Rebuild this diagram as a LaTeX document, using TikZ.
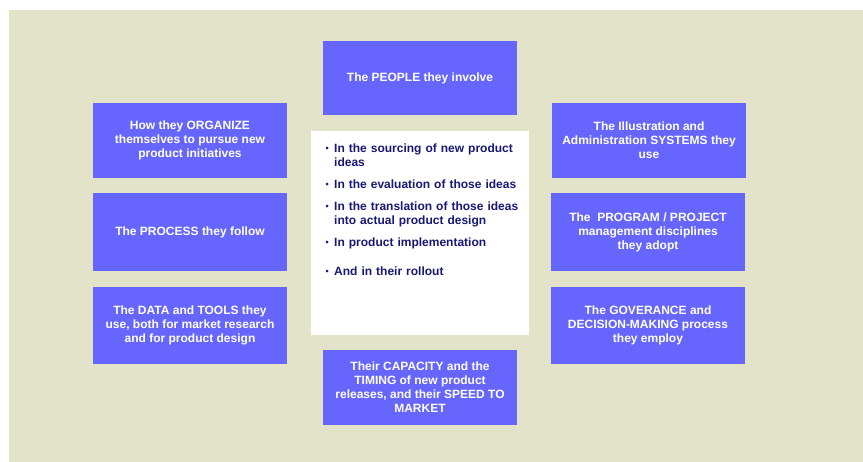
\documentclass[tikz,border=0pt]{standalone}
\usepackage{fontspec}
\setmainfont{Liberation Sans}
\usepackage{enumitem}
\usetikzlibrary{positioning}
\definecolor{paper}{RGB}{227,227,201}
\definecolor{tile}{RGB}{102,102,255}
\definecolor{ink}{RGB}{24,24,118}

\begin{document}
\begin{tikzpicture}[x=1pt,y=-1pt,
  topic/.style={fill=tile,text=white,font=\bfseries\fontsize{12}{14}\selectfont,
    align=center,minimum width=194pt,minimum height=76pt,inner sep=0pt},
  hub/.style={fill=white,minimum width=218pt,minimum height=204pt,inner sep=0pt}]
  \useasboundingbox (0,0) rectangle (863,462);
  \fill[paper] (9,10) rectangle (863,462);
  % centre panel with the list
  \node[hub] (hub) at (420,233) {};
  \node[anchor=north west,text=ink,text width=200pt,inner sep=0pt,
    font=\bfseries\fontsize{12}{14}\selectfont] (stages) at (323,138.5) {%
    \begin{itemize}[leftmargin=11pt,labelsep=5.5pt,itemsep=8pt,parsep=0pt,
      topsep=0pt,partopsep=0pt,label={\raisebox{0.8pt}{\small\textbullet}}]
      \item In the sourcing of new product ideas
      \item In the evaluation of those ideas
      \item In the translation of those ideas into actual product design
      \item In product implementation
      \vspace{7pt}
      \item And in their rollout
    \end{itemize}};
  % top and bottom
  \node[topic,minimum height=74pt] (people) at (420,78) {The PEOPLE they involve};
  \node[topic,minimum height=75pt] (capacity) at (420,387.5)
    {Their CAPACITY and the\\TIMING of new product\\releases, and their SPEED TO\\MARKET};
  % left column
  \node[topic,minimum height=75pt] (organize) at (190,140.5)
    {How they ORGANIZE\\themselves to pursue new\\product initiatives};
  \node[topic,minimum height=78pt] (process) at (190,232) {The PROCESS they follow};
  \node[topic,minimum height=77pt] (data) at (190,325.5)
    {The DATA and TOOLS they\\use, both for market research\\and for product design};
  % right column
  \node[topic,minimum height=75pt] (systems) at (649,140.5)
    {The Illustration and\\Administration SYSTEMS they\\use};
  \node[topic,minimum height=78pt] (program) at (648,232)
    {The~ PROGRAM / PROJECT\\management disciplines\\they adopt};
  \node[topic,minimum height=77pt] (governance) at (648,325.5)
    {The GOVERANCE and\\DECISION-MAKING process\\they employ};
\end{tikzpicture}
\end{document}
